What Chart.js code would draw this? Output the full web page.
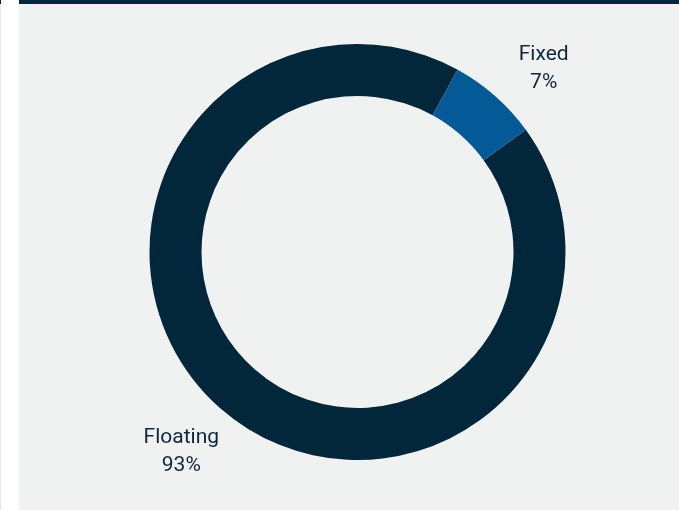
<!DOCTYPE html>
<html>
<head>
<meta charset="utf-8">
<script src="https://cdn.jsdelivr.net/npm/chart.js@4"></script>
<style>
  html, body { margin: 0; padding: 0; background: #ffffff; }
  body { width: 679px; height: 510px; position: relative; overflow: hidden; }
  .edge { position: absolute; left: 0; top: 0; width: 1px; height: 510px; background: #e6e7e8; }
  .edge-top { position: absolute; left: 0; top: 0; width: 1px; height: 4px; background: #02263a; }
  .topbar { position: absolute; left: 19px; top: 0; width: 660px; height: 4px; background: #02263a; }
  .panel { position: absolute; left: 19px; top: 4px; width: 660px; height: 506px; background: #f0f1f1; }
  canvas { display: block; }
</style>
</head>
<body>
<div class="edge"></div>
<div class="edge-top"></div>
<div class="topbar"></div>
<div class="panel"><canvas id="chart" width="660" height="506"></canvas></div>
<script>
// Rate mix of the portfolio
const categories = ['Floating', 'Fixed'];
const shares = [93, 7];
const valueLabels = ['93%', '7%'];
const sliceColors = ['#02263a', '#035a96'];

// Writes the category and share just outside each slice, along its middle angle
const outsideLabels = {
  id: 'outsideLabels',
  afterDatasetsDraw(chart) {
    const ctx = chart.ctx;
    const meta = chart.getDatasetMeta(0);
    ctx.save();
    ctx.font = '21px Roboto';
    ctx.fillStyle = '#0e2739';
    ctx.textAlign = 'center';
    ctx.textBaseline = 'middle';
    meta.data.forEach((arc, i) => {
      const mid = (arc.startAngle + arc.endAngle) / 2;
      const x = arc.x + Math.cos(mid) * 274 + 5;
      const y = arc.y + Math.sin(mid) * 255 + 8;
      ctx.fillText(chart.data.labels[i], x, y - 14);
      ctx.fillText(valueLabels[i], x, y + 14);
    });
    ctx.restore();
  }
};

new Chart(document.getElementById('chart'), {
  type: 'doughnut',
  data: {
    labels: categories,
    datasets: [{
      data: shares,
      backgroundColor: sliceColors,
      borderWidth: 0,
      hoverOffset: 0
    }]
  },
  options: {
    responsive: false,
    animation: false,
    rotation: 54,
    cutout: '75%',
    layout: { padding: { left: 100, right: 83, top: 40, bottom: 50 } },
    plugins: {
      legend: { display: false },
      tooltip: { enabled: false }
    }
  },
  plugins: [outsideLabels]
});
</script>
</body>
</html>
